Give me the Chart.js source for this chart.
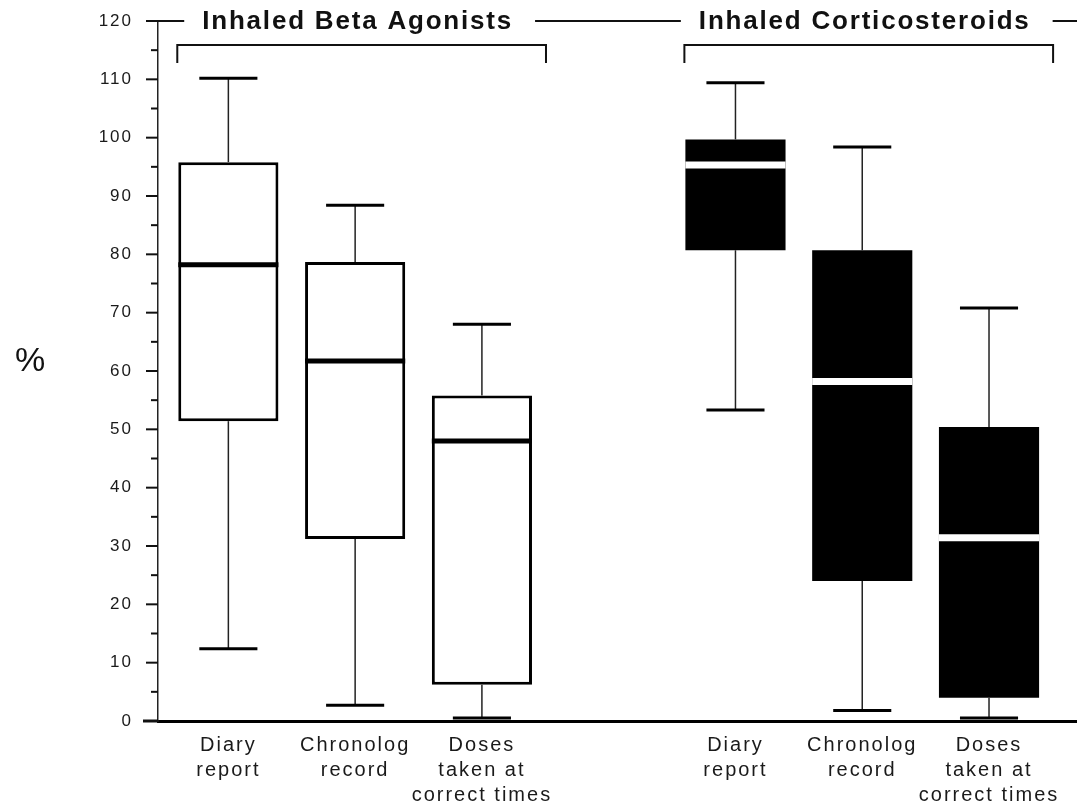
<!DOCTYPE html>
<html>
<head>
<meta charset="utf-8">
<title>Inhaled medication use</title>
<script src="https://cdn.jsdelivr.net/npm/chart.js@4.4.1/dist/chart.umd.min.js"></script>
<style>
  html, body { margin: 0; padding: 0; background: #fff; }
  canvas { display: block; }
</style>
</head>
<body>
<canvas id="box-chart" width="1077" height="812"></canvas>
<script>
const groups = ['Inhaled Beta Agonists', 'Inhaled Corticosteroids'];
const categories = [['Diary', 'report'], ['Chronolog', 'record'], ['Doses', 'taken at', 'correct times']];
const yTicks = [0, 10, 20, 30, 40, 50, 60, 70, 80, 90, 100, 110, 120];

// one entry per box: beta agonists first, then corticosteroids
const whiskerLow = [12.4, 2.7, 0.5, 53.3, 1.8, 0.5];
const quartile1 = [51.4, 31.2, 6.2, 80.7, 24.0, 4.0];
const median = [78.2, 61.7, 48.0, 95.3, 58.2, 31.4];
const quartile3 = [95.8, 78.7, 55.8, 99.7, 80.7, 50.4];
const whiskerHigh = [110.2, 88.4, 68.0, 109.4, 98.4, 70.8];

const FONT = '"Liberation Sans", Arial, Helvetica, sans-serif';
const slots = categories.length + 1; // one empty slot between the two groups
const positions = groups.flatMap((g, gi) => categories.map((c, j) => gi * slots + j));

const datasets = groups.map((name, g) => ({
  label: name,
  data: categories.map((c, j) => {
    const k = g * categories.length + j;
    return { x: g * slots + j, y: [quartile1[k], quartile3[k]], k: k };
  }),
  backgroundColor: g === 0 ? '#ffffff' : '#000000',
  borderColor: '#000000',
  borderWidth: g === 0 ? 3 : 0,
  borderSkipped: false,
  grouped: false,
  categoryPercentage: 1,
  barPercentage: 0.79,
}));

function line(ctx, x1, y1, x2, y2) {
  ctx.beginPath();
  ctx.moveTo(x1, y1);
  ctx.lineTo(x2, y2);
  ctx.stroke();
}

const boxPlot = {
  id: 'boxPlot',
  beforeDraw(chart) {
    chart.ctx.letterSpacing = '2px';
  },
  afterDatasetsDraw(chart) {
    const { ctx, scales: { y } } = chart;
    ctx.save();
    chart.data.datasets.forEach((ds, g) => {
      chart.getDatasetMeta(g).data.forEach((bar, j) => {
        const k = ds.data[j].k;
        const half = bar.width / 2;
        const cap = bar.width * 0.29;

        ctx.strokeStyle = '#222';
        ctx.lineWidth = 1.5;
        line(ctx, bar.x, y.getPixelForValue(quartile3[k]), bar.x, y.getPixelForValue(whiskerHigh[k]));
        line(ctx, bar.x, y.getPixelForValue(quartile1[k]), bar.x, y.getPixelForValue(whiskerLow[k]));

        ctx.strokeStyle = '#000';
        ctx.lineWidth = 3;
        [whiskerHigh[k], whiskerLow[k]].forEach(v => {
          const py = y.getPixelForValue(v);
          line(ctx, bar.x - cap, py, bar.x + cap, py);
        });

        const my = y.getPixelForValue(median[k]);
        ctx.lineWidth = g === 0 ? 5 : 7;
        ctx.strokeStyle = g === 0 ? '#000' : '#fff';
        line(ctx, bar.x - half, my, bar.x + half, my);
      });
    });
    ctx.restore();
  },
  afterDraw(chart) {
    const { ctx, chartArea: area, scales: { y } } = chart;
    ctx.save();
    ctx.strokeStyle = '#111';
    ctx.fillStyle = '#111';

    // y ticks, long every 10, short halfway between
    yTicks.forEach((v, i) => {
      const py = y.getPixelForValue(v);
      ctx.lineWidth = i === 0 ? 3 : 2;
      line(ctx, area.left - (i === 0 ? 15 : 12), py, area.left, py);
      if (i < yTicks.length - 1) {
        const my = y.getPixelForValue((v + yTicks[i + 1]) / 2);
        ctx.lineWidth = 2;
        line(ctx, area.left - 7, my, area.left, my);
      }
    });

    ctx.letterSpacing = '0px';
    ctx.font = '34px ' + FONT;
    ctx.textAlign = 'center';
    ctx.textBaseline = 'middle';
    ctx.fillText('%', 30, (area.top + area.bottom) / 2 - 9);

    // group titles on the top rule, with brackets under them
    ctx.font = 'bold 26px ' + FONT;
    ctx.letterSpacing = '1.8px';
    const top = area.top;
    let ruleStart = area.left - 12;
    groups.forEach((name, g) => {
      const bars = chart.getDatasetMeta(g).data;
      const first = bars[0];
      const last = bars[bars.length - 1];
      const left = first.x - first.width / 2 - 1;
      const right = last.x + last.width / 2 + 14;
      const cx = (left + right) / 2 - 4;
      const w = ctx.measureText(name).width;

      ctx.lineWidth = 2;
      line(ctx, ruleStart, top, cx - w / 2 - 18, top);
      ruleStart = cx + w / 2 + 22;
      ctx.fillText(name, cx, top + 1);

      const by = top + 24;
      ctx.beginPath();
      ctx.moveTo(left, by + 18);
      ctx.lineTo(left, by);
      ctx.lineTo(right, by);
      ctx.lineTo(right, by + 18);
      ctx.stroke();
    });
    line(ctx, ruleStart, top, chart.width, top);
    ctx.restore();
  },
};

new Chart(document.getElementById('box-chart'), {
  type: 'bar',
  data: { datasets: datasets },
  options: {
    responsive: false,
    animation: false,
    layout: { padding: { top: 21, right: 0, bottom: 0, left: 0 } },
    plugins: {
      legend: { display: false },
      tooltip: { enabled: false },
    },
    scales: {
      x: {
        type: 'linear',
        offset: false,
        min: -0.555,
        max: 6.694,
        afterBuildTicks: (scale) => {
          scale.ticks = positions.map(v => ({ value: v }));
        },
        afterFit: (scale) => {
          scale.height = 91;
        },
        grid: { display: false, drawTicks: false, offset: false },
        border: { color: '#000', width: 3 },
        ticks: {
          autoSkip: false,
          maxRotation: 0,
          padding: 12,
          color: '#1a1a1a',
          font: { family: FONT, size: 20, lineHeight: 1.25 },
          callback: (v) => categories[v % slots],
        },
      },
      y: {
        min: yTicks[0],
        max: yTicks[yTicks.length - 1],
        afterFit: (scale) => {
          scale.width = 158;
          scale.paddingTop = 0;
          scale.paddingBottom = 0;
        },
        grid: { display: false, drawTicks: false },
        border: { color: '#222', width: 1.5 },
        ticks: {
          stepSize: 10,
          padding: 25,
          color: '#1a1a1a',
          font: { family: FONT, size: 17 },
        },
      },
    },
  },
  plugins: [boxPlot],
});
</script>
</body>
</html>
